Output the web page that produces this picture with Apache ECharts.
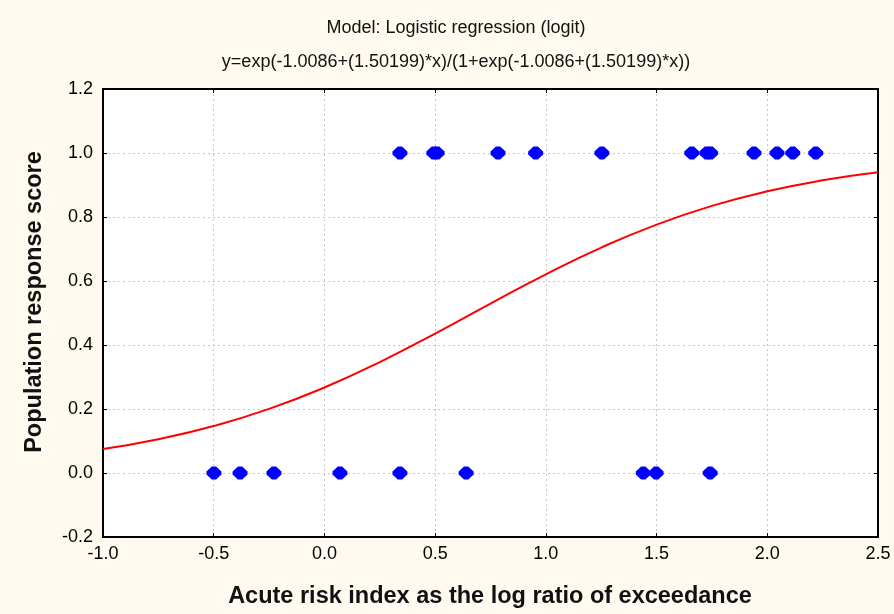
<!DOCTYPE html>
<html>
<head>
<meta charset="utf-8">
<title>Logistic regression</title>
<script src="https://cdn.jsdelivr.net/npm/echarts@6/dist/echarts.min.js"></script>
<style>
  html, body { margin: 0; padding: 0; background: #FFFAF0; }
  #chart { width: 894px; height: 614px; }
</style>
</head>
<body>
<div id="chart"></div>
<script>
// Observed risk index values, grouped by population response (1 = responded, 0 = not)
var respondedX = [0.341, 0.494, 0.509, 0.784, 0.954, 1.253, 1.659, 1.744, 1.727, 1.940, 2.044, 2.115, 2.219];
var notRespondedX = [-0.499, -0.381, -0.228, 0.070, 0.341, 0.640, 1.440, 1.498, 1.742];

// Fitted logistic curve, sampled along the x axis
var curveX = [-1.0, -0.75, -0.5, -0.25, 0.0, 0.25, 0.5, 0.75, 1.0, 1.25, 1.5, 1.75, 2.0, 2.25, 2.5];
var curveY = [0.0751, 0.1057, 0.1468, 0.2003, 0.2672, 0.3468, 0.4359, 0.5294, 0.6209, 0.7045, 0.7763, 0.8348, 0.8803, 0.9146, 0.9397];

var titleLines = [
  'Model: Logistic regression (logit)',
  'y=exp(-1.0086+(1.50199)*x)/(1+exp(-1.0086+(1.50199)*x))'
];
var xTitle = 'Acute risk index as the log ratio of exceedance';
var yTitle = 'Population response score';

var FONT = '"Liberation Sans", Arial, sans-serif';
var markerPath = 'path://M5,0 L9,0 L14,5 L14,8 L9,13 L5,13 L0,8 L0,5 Z';

function pairs(xs, y) { return xs.map(function (x) { return [x, y]; }); }

var chart = echarts.init(document.getElementById('chart'), null, { renderer: 'canvas' });

var gridSplit = { show: true, lineStyle: { color: '#c8c8c8', type: [2, 3], width: 1 } };
var tick = { show: true, inside: true, length: 4, lineStyle: { color: '#000', width: 1 } };

chart.setOption({
  backgroundColor: '#FFFAF0',
  animation: false,
  grid: {
    left: 103, right: 16, top: 89, bottom: 77,
    show: true, backgroundColor: '#ffffff', borderColor: '#000', borderWidth: 2
  },
  xAxis: [{
    type: 'value', min: -1, max: 2.5, interval: 0.5,
    axisLine: { show: true, onZero: false, lineStyle: { color: '#000', width: 2 } },
    axisTick: tick,
    splitLine: gridSplit,
    axisLabel: { color: '#000', fontFamily: FONT, fontSize: 18, margin: 8,
      formatter: function (v) { return v.toFixed(1); } }
  }, {
    type: 'value', position: 'top', min: -1, max: 2.5, interval: 0.5,
    axisLine: { show: true, onZero: false, lineStyle: { color: '#000', width: 2 } },
    axisTick: tick, splitLine: { show: false }, axisLabel: { show: false }
  }],
  yAxis: [{
    type: 'value', min: -0.2, max: 1.2, interval: 0.2,
    axisLine: { show: true, onZero: false, lineStyle: { color: '#000', width: 2 } },
    axisTick: tick,
    splitLine: gridSplit,
    axisLabel: { color: '#000', fontFamily: FONT, fontSize: 18, margin: 10,
      formatter: function (v) { return (Math.abs(v) < 1e-9 ? 0 : v).toFixed(1); } }
  }, {
    type: 'value', position: 'right', min: -0.2, max: 1.2, interval: 0.2,
    axisLine: { show: true, onZero: false, lineStyle: { color: '#000', width: 2 } },
    axisTick: tick, splitLine: { show: false }, axisLabel: { show: false }
  }],
  graphic: [
    { type: 'text', x: 456, y: 28, style: { text: titleLines[0], fill: '#111', font: '18px ' + FONT, textAlign: 'center', textVerticalAlign: 'middle' } },
    { type: 'text', x: 456, y: 62, style: { text: titleLines[1], fill: '#111', font: '18px ' + FONT, textAlign: 'center', textVerticalAlign: 'middle' } },
    { type: 'text', x: 490, y: 597, style: { text: xTitle, fill: '#111', font: 'bold 23.5px ' + FONT, textAlign: 'center', textVerticalAlign: 'middle' } },
    { type: 'text', x: 35, y: 302, rotation: Math.PI / 2, style: { text: yTitle, fill: '#111', font: 'bold 23.5px ' + FONT, textAlign: 'center', textVerticalAlign: 'middle' } }
  ],
  series: [
    {
      type: 'line', xAxisIndex: 0, yAxisIndex: 0,
      data: curveX.map(function (x, i) { return [x, curveY[i]]; }),
      smooth: true, showSymbol: false,
      lineStyle: { color: '#ff0000', width: 2 }, z: 2
    },
    {
      type: 'scatter', xAxisIndex: 0, yAxisIndex: 0,
      data: pairs(respondedX, 1),
      symbol: markerPath, symbolSize: [15, 13],
      itemStyle: { color: '#0000ff', opacity: 1 }, z: 3
    },
    {
      type: 'scatter', xAxisIndex: 0, yAxisIndex: 0,
      data: pairs(notRespondedX, 0),
      symbol: markerPath, symbolSize: [15, 13],
      itemStyle: { color: '#0000ff', opacity: 1 }, z: 3
    }
  ]
});
</script>
</body>
</html>
